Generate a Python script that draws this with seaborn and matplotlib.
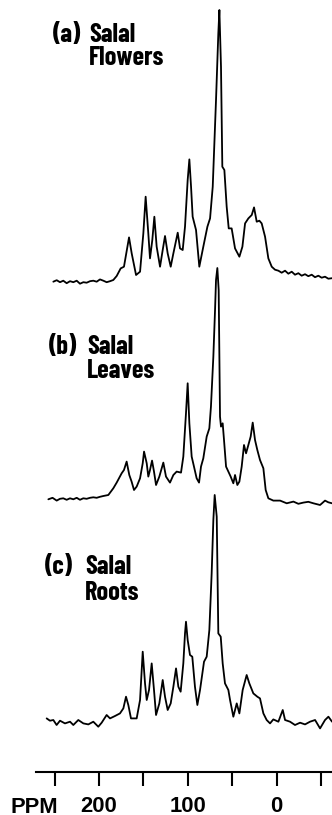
import matplotlib
matplotlib.use("Agg")
import matplotlib.pyplot as plt
import pandas as pd
import seaborn as sns

# --- 13C CP/MAS NMR spectra of salal tissues (chemical shift in ppm, intensity in a.u.) ---
flowers_ppm = [251.4, 247.6, 243.9, 240.2, 236.4, 232.6, 228.9, 225.1, 221.4, 217.6, 213.9, 210.1,
               206.4, 202.6, 198.9, 195.1, 191.4, 187.6, 183.9, 180.1, 175.6, 171.9, 166.2, 163.2,
               158.3, 153.8, 150.1, 147.5, 144.5, 142.6, 140.0, 137.7, 135.1, 131.3, 128.3, 125.7,
               122.7, 119.3, 116.3, 111.4, 108.8, 105.8, 103.2, 100.2, 98.3, 96.4, 94.6, 90.8,
               87.1, 82.6, 78.0, 75.0, 72.0, 68.3, 65.7, 64.5, 62.7, 61.2, 58.9, 56.3,
               54.0, 50.7, 46.9, 42.0, 38.6, 35.6, 31.9, 28.1, 25.5, 22.5, 19.5, 16.9,
               13.1, 9.4, 5.6, 1.9, -1.9, -5.6, -9.4, -13.1, -16.9, -20.6, -24.4, -28.1,
               -31.9, -35.6, -39.4, -43.1, -46.9, -50.6, -54.4, -58.1, -62.3]
flowers_int = [0, 1.5, -0.5, 1, -1.5, 0.5, -0.5, 1, -2, -0.5, -1, 0.5,
               1, 0, 2.3, 1, -0.5, 0.5, 1.7, 5.7, 13.3, 15, 44.3, 28.3,
               6.7, 10, 48.3, 85, 48.3, 23.3, 41.7, 65, 35, 15, 31.7, 45.7,
               28.3, 15, 28.3, 49, 33.3, 31.7, 55, 101.7, 122.3, 95, 65, 51.7,
               15, 35, 55, 63.3, 95, 181.7, 248.3, 271.7, 215, 115, 111.7, 75,
               53.3, 53.3, 33.3, 25, 35, 58.3, 63.3, 66.7, 74.3, 60, 61, 58.3,
               45, 23.3, 15, 12, 11, 9, 11, 8, 10, 7, 8.5, 6,
               7.5, 5.5, 7, 4.5, 6, 4, 5, 3, 3.5]

leaves_ppm = [257.0, 252.3, 247.6, 243.9, 240.2, 236.4, 232.6, 228.9, 225.1, 221.4, 217.7, 213.9,
              210.1, 206.4, 202.6, 198.9, 195.1, 189.5, 183.9, 180.1, 174.5, 171.9, 168.9, 165.9,
              163.3, 160.6, 157.6, 153.8, 150.8, 149.3, 146.3, 144.5, 142.6, 140.3, 138.1, 135.8,
              132.1, 127.6, 124.6, 120.1, 116.3, 112.6, 107.7, 105.1, 102.1, 100.2, 98.3, 95.7,
              93.1, 90.1, 87.4, 85.2, 82.6, 78.8, 75.8, 74.0, 71.3, 69.4, 68.3, 66.8,
              65.3, 63.8, 62.7, 60.8, 59.3, 57.0, 54.4, 51.8, 48.8, 46.9, 44.3, 42.0,
              39.4, 36.8, 34.5, 31.9, 29.3, 27.0, 24.4, 21.8, 18.8, 15.0, 12.4, 9.4,
              3.8, -3.8, -11.3, -18.8, -24.4, -30.0, -35.6, -41.3, -48.8, -54.4, -58.1, -62.3]
leaves_int = [0, 1.5, -1.3, 0.5, 1, -0.5, 1, 0, 1.5, -0.5, 1, 0.5,
              1.5, 2, 1.5, 2.5, 3.3, 4.3, 11, 16.7, 26, 29.3, 37.7, 24.3,
              17.7, 9.3, 12.7, 21, 36, 47.7, 36, 22.7, 29.3, 38.7, 27.7, 14.3,
              22.7, 36.7, 22.7, 16.7, 24.3, 27.7, 26.7, 42.7, 86, 116, 76, 42.7,
              32.7, 21, 16.7, 32.7, 41, 62.7, 71, 92.7, 142.7, 189.3, 219.3, 231.3,
              209.3, 82.7, 72.7, 76, 59.3, 32.7, 27.7, 22.7, 16, 24.3, 14.3, 17.7,
              32.7, 54.3, 46, 54.3, 62.7, 76.7, 59.3, 49.3, 39.3, 31, 9.3, 1,
              -1.3, -1.3, -4, -2.3, -4.5, -3.3, -2.5, -4, -5.7, -1.3, -3, -4]

roots_ppm = [258.9, 255.2, 251.4, 247.7, 243.9, 238.3, 232.6, 228.9, 223.3, 217.6, 212.0, 206.4,
             200.8, 197.0, 191.4, 187.6, 182.0, 176.4, 172.6, 169.6, 167.0, 164.0, 157.6, 153.8,
             150.8, 148.2, 146.3, 143.7, 140.7, 138.1, 135.8, 132.1, 128.3, 125.7, 122.7, 119.3,
             116.3, 113.3, 110.7, 108.1, 105.1, 103.2, 102.1, 100.2, 97.6, 95.0, 92.0, 89.3,
             86.3, 81.8, 78.8, 75.8, 73.2, 71.3, 69.8, 67.5, 65.7, 63.0, 60.8, 58.2,
             54.4, 52.5, 48.8, 45.0, 42.0, 38.3, 33.8, 30.8, 26.3, 21.8, 18.8, 15.0,
             11.3, 7.5, 3.8, -1.9, -6.8, -9.4, -15.0, -20.6, -26.3, -31.9, -37.5, -43.2,
             -48.8, -54.4, -58.2, -62.3]
roots_int = [3.3, 1, 1.7, -3.3, 1, -1.7, 0, -3.3, 1.7, -1.7, -2.7, 0,
             -5, -1, 6.7, 3.3, 5.7, 8.3, 13.3, 25, 16.7, 3.3, 3.3, 21.7,
             70, 38.3, 21.7, 31.7, 58.3, 31.7, 6.7, 18.3, 41.7, 25, 11.7, 18.3,
             35, 53.3, 35, 30, 58.3, 88.3, 100, 81.7, 66.7, 65, 35, 16.7,
             31.7, 60, 65, 91.7, 148.3, 201.7, 226.7, 205, 88.3, 85, 58.3, 38.3,
             31.7, 21.7, 5, 18.3, 8.3, 31.7, 46.7, 38.3, 28.3, 25, 23.3, 8.3,
             1.7, -1.7, 2.3, 0, 11.7, 1.7, 0, -3.3, -1, -2.7, 0, 1.7,
             -6.7, 1.7, 5, 0]

axis_ticks = [250, 200, 150, 100, 50, 0, -50]
axis_tick_labels = ["", "200", "", "100", "", "0", ""]

panel_tags = ["(a)", "(b)", "(c)"]
panel_titles = [("Salal", "Flowers"), ("Salal", "Leaves"), ("Salal", "Roots")]

# --- figure geometry (pixels) ---
W, H = 332, 815
SPINE_Y = 771.5            # pixel row of the ppm axis
ZERO_PX, PX_PER_PPM = 276.7, 0.8885

sns.set_theme(style="white")
plt.rcParams["font.family"] = ["Barlow Condensed", "DejaVu Sans"]
plt.rcParams["text.color"] = "black"
plt.rcParams["xtick.color"] = "black"
plt.rcParams["xtick.labelcolor"] = "black"
AXIS_FONT = ["Liberation Sans", "DejaVu Sans"]

fig = plt.figure(figsize=(W / 100, H / 100), dpi=100)
ax = fig.add_axes([0, (H - SPINE_Y) / H, 1, SPINE_Y / H])
ax.set_facecolor("white")
ax.set_xlim(ZERO_PX / PX_PER_PPM, (ZERO_PX - W) / PX_PER_PPM)
ax.set_ylim(0, SPINE_Y)

# vertical stacking of the three traces (baseline height above the axis)
offsets = [489.8, 272.2, 49.8]
series = [(flowers_ppm, flowers_int), (leaves_ppm, leaves_int), (roots_ppm, roots_int)]
for (ppm, inten), off in zip(series, offsets):
    df = pd.DataFrame({"ppm": ppm, "y": [v + off for v in inten]})
    sns.lineplot(data=df, x="ppm", y="y", ax=ax, color="black", linewidth=1.3,
                 estimator=None, sort=False)

ax.set_xlabel("")
ax.set_ylabel("")
for s in ("top", "left", "right"):
    ax.spines[s].set_visible(False)
ax.spines["bottom"].set_color("black")
ax.spines["bottom"].set_linewidth(1.5)
ax.spines["bottom"].set_bounds(ZERO_PX / PX_PER_PPM - 36 / PX_PER_PPM, (ZERO_PX - W) / PX_PER_PPM)
ax.set_yticks([])
ax.set_xticks(axis_ticks)
ax.set_xticklabels(axis_tick_labels)
ax.tick_params(axis="x", direction="out", length=10, width=1.5, color="black",
               pad=7.3, labelsize=15.8, bottom=True)
for lbl in ax.get_xticklabels():
    lbl.set_fontweight("bold")
    lbl.set_family(AXIS_FONT)

fig.text(10 / W, 1 - 813 / H, "PPM", fontsize=15.8, fontweight="bold", family=AXIS_FONT,
         ha="left", va="baseline")

# panel captions
tag_x = [53, 49, 45]
title_x = [89, 87, 85]
line1_y = [41.7, 354, 574]
line2_y = [65, 378, 600.5]
for tag, (t1, t2), tx, sx, y1, y2 in zip(panel_tags, panel_titles, tag_x, title_x, line1_y, line2_y):
    fig.text(tx / W, 1 - y1 / H, tag, fontsize=19, fontweight="bold", ha="left", va="baseline")
    fig.text(sx / W, 1 - y1 / H, t1, fontsize=19, fontweight="bold", ha="left", va="baseline")
    fig.text(sx / W, 1 - y2 / H, t2, fontsize=19, fontweight="bold", ha="left", va="baseline")

fig.savefig("out.png", dpi=100, facecolor="white")
